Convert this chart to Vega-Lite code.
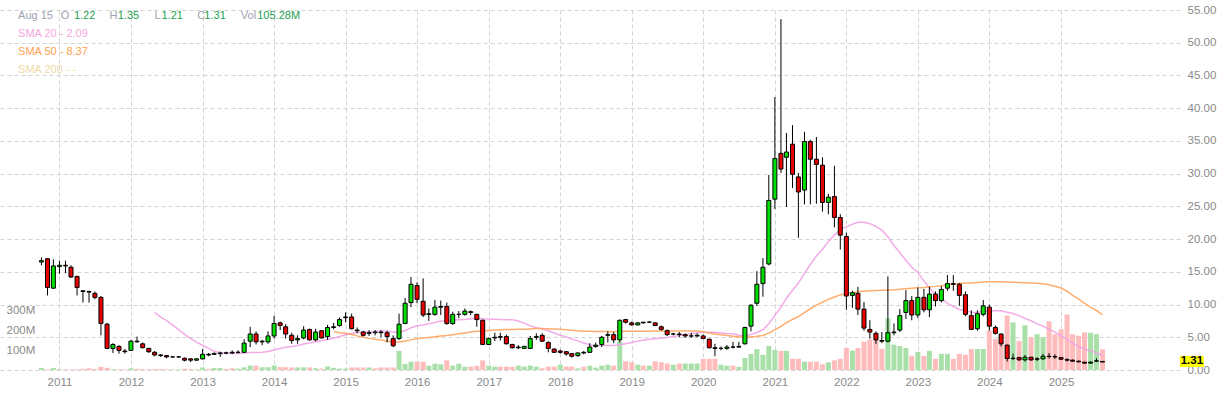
{
"$schema": "https://vega.github.io/schema/vega-lite/v6.json",
"width": 1180, "height": 360,
"autosize": {"type": "none"},
"padding": {"left": 0, "top": 10, "right": 50, "bottom": 27},
"background": "white",
"config": {"view": {"stroke": null}, "font": "Liberation Sans"},
"data": {"format": {"parse": {"d": "date:'%Y-%m'"}}, "values": [
{"d":"2010-10","o":16.5,"h":17.2,"l":16.0,"c":16.7,"v":10,"vu":1},
{"d":"2010-11","o":17.0,"h":17.1,"l":11.4,"c":12.6,"v":3,"vu":0},
{"d":"2010-12","o":12.5,"h":16.9,"l":12.4,"c":15.9,"v":10,"vu":1},
{"d":"2011-01","o":15.8,"h":16.7,"l":14.7,"c":16.0,"v":3,"vu":1},
{"d":"2011-02","o":16.0,"h":16.7,"l":14.8,"c":15.9,"v":3,"vu":0},
{"d":"2011-03","o":15.7,"h":16.0,"l":14.1,"c":14.2,"v":3,"vu":0},
{"d":"2011-04","o":14.3,"h":14.4,"l":11.4,"c":12.6,"v":4,"vu":0},
{"d":"2011-05","o":12.1,"h":12.2,"l":10.3,"c":12.0,"v":6,"vu":0},
{"d":"2011-06","o":12.0,"h":12.1,"l":10.3,"c":11.9,"v":9,"vu":0},
{"d":"2011-07","o":11.7,"h":12.0,"l":10.8,"c":11.1,"v":5,"vu":0},
{"d":"2011-08","o":11.1,"h":11.3,"l":5.3,"c":7.1,"v":16,"vu":0},
{"d":"2011-09","o":7.0,"h":7.2,"l":3.2,"c":3.3,"v":11,"vu":0},
{"d":"2011-10","o":3.3,"h":4.1,"l":2.6,"c":3.9,"v":4,"vu":1},
{"d":"2011-11","o":3.6,"h":3.8,"l":2.5,"c":3.0,"v":4,"vu":0},
{"d":"2011-12","o":2.9,"h":3.2,"l":2.5,"c":2.8,"v":3,"vu":0},
{"d":"2012-01","o":3.0,"h":4.6,"l":2.9,"c":4.4,"v":9,"vu":1},
{"d":"2012-02","o":4.4,"h":5.1,"l":4.2,"c":4.3,"v":6,"vu":0},
{"d":"2012-03","o":4.0,"h":4.2,"l":3.3,"c":3.4,"v":4,"vu":0},
{"d":"2012-04","o":3.3,"h":3.4,"l":2.6,"c":2.8,"v":4,"vu":0},
{"d":"2012-05","o":2.7,"h":2.9,"l":2.1,"c":2.3,"v":5,"vu":0},
{"d":"2012-06","o":2.3,"h":2.4,"l":2.0,"c":2.2,"v":5,"vu":0},
{"d":"2012-07","o":2.2,"h":2.3,"l":1.8,"c":2.0,"v":3,"vu":0},
{"d":"2012-08","o":2.0,"h":2.1,"l":1.9,"c":2.0,"v":3,"vu":1},
{"d":"2012-09","o":2.0,"h":2.1,"l":1.9,"c":2.0,"v":3,"vu":1},
{"d":"2012-10","o":1.8,"h":1.9,"l":1.3,"c":1.5,"v":6,"vu":0},
{"d":"2012-11","o":1.7,"h":1.8,"l":1.2,"c":1.5,"v":4,"vu":0},
{"d":"2012-12","o":1.5,"h":1.8,"l":1.4,"c":1.7,"v":3,"vu":1},
{"d":"2013-01","o":1.7,"h":3.2,"l":1.6,"c":2.4,"v":13,"vu":1},
{"d":"2013-02","o":2.3,"h":2.6,"l":2.1,"c":2.4,"v":6,"vu":0},
{"d":"2013-03","o":2.4,"h":2.7,"l":2.3,"c":2.5,"v":10,"vu":1},
{"d":"2013-04","o":2.5,"h":2.8,"l":2.0,"c":2.6,"v":10,"vu":1},
{"d":"2013-05","o":2.6,"h":2.8,"l":2.4,"c":2.6,"v":5,"vu":0},
{"d":"2013-06","o":2.6,"h":3.0,"l":2.4,"c":2.7,"v":9,"vu":0},
{"d":"2013-07","o":2.7,"h":3.0,"l":2.5,"c":2.7,"v":7,"vu":1},
{"d":"2013-08","o":2.7,"h":4.7,"l":2.6,"c":4.1,"v":13,"vu":1},
{"d":"2013-09","o":4.4,"h":6.6,"l":3.5,"c":5.5,"v":23,"vu":1},
{"d":"2013-10","o":5.5,"h":5.9,"l":3.9,"c":4.3,"v":23,"vu":0},
{"d":"2013-11","o":4.3,"h":4.6,"l":3.8,"c":4.4,"v":14,"vu":1},
{"d":"2013-12","o":4.3,"h":5.9,"l":4.0,"c":5.2,"v":14,"vu":1},
{"d":"2014-01","o":5.2,"h":8.3,"l":4.8,"c":7.1,"v":23,"vu":1},
{"d":"2014-02","o":7.2,"h":7.4,"l":6.1,"c":6.8,"v":15,"vu":0},
{"d":"2014-03","o":6.6,"h":7.0,"l":4.8,"c":5.5,"v":14,"vu":0},
{"d":"2014-04","o":5.3,"h":5.7,"l":4.0,"c":4.5,"v":13,"vu":0},
{"d":"2014-05","o":4.6,"h":5.3,"l":4.0,"c":4.8,"v":13,"vu":1},
{"d":"2014-06","o":4.9,"h":6.7,"l":4.7,"c":6.1,"v":14,"vu":1},
{"d":"2014-07","o":6.2,"h":6.3,"l":4.5,"c":4.6,"v":13,"vu":0},
{"d":"2014-08","o":4.6,"h":6.3,"l":4.4,"c":5.8,"v":9,"vu":1},
{"d":"2014-09","o":6.0,"h":6.1,"l":4.8,"c":4.9,"v":7,"vu":0},
{"d":"2014-10","o":5.1,"h":6.9,"l":4.6,"c":6.5,"v":18,"vu":1},
{"d":"2014-11","o":6.5,"h":7.2,"l":6.2,"c":6.6,"v":11,"vu":1},
{"d":"2014-12","o":6.8,"h":8.0,"l":6.6,"c":7.7,"v":7,"vu":1},
{"d":"2015-01","o":8.0,"h":8.8,"l":7.3,"c":8.1,"v":7,"vu":1},
{"d":"2015-02","o":8.1,"h":8.6,"l":6.2,"c":6.3,"v":13,"vu":0},
{"d":"2015-03","o":6.1,"h":6.5,"l":5.6,"c":6.0,"v":13,"vu":0},
{"d":"2015-04","o":5.8,"h":6.0,"l":5.1,"c":5.3,"v":13,"vu":0},
{"d":"2015-05","o":5.6,"h":6.1,"l":5.2,"c":5.7,"v":13,"vu":1},
{"d":"2015-06","o":5.7,"h":6.1,"l":5.3,"c":5.8,"v":9,"vu":0},
{"d":"2015-07","o":5.8,"h":6.1,"l":5.0,"c":5.7,"v":13,"vu":0},
{"d":"2015-08","o":5.7,"h":6.0,"l":4.2,"c":5.1,"v":13,"vu":0},
{"d":"2015-09","o":4.8,"h":5.3,"l":3.5,"c":3.7,"v":13,"vu":0},
{"d":"2015-10","o":4.8,"h":8.6,"l":4.6,"c":7.0,"v":97,"vu":1},
{"d":"2015-11","o":7.1,"h":11.0,"l":7.0,"c":10.2,"v":31,"vu":1},
{"d":"2015-12","o":10.3,"h":14.2,"l":9.6,"c":13.1,"v":42,"vu":1},
{"d":"2016-01","o":12.9,"h":13.4,"l":10.2,"c":10.8,"v":42,"vu":0},
{"d":"2016-02","o":10.5,"h":14.0,"l":8.1,"c":8.4,"v":42,"vu":0},
{"d":"2016-03","o":8.5,"h":9.4,"l":7.5,"c":8.6,"v":22,"vu":1},
{"d":"2016-04","o":8.5,"h":10.7,"l":8.3,"c":9.6,"v":32,"vu":1},
{"d":"2016-05","o":9.6,"h":10.6,"l":8.4,"c":9.7,"v":29,"vu":1},
{"d":"2016-06","o":9.7,"h":10.3,"l":6.9,"c":7.1,"v":49,"vu":0},
{"d":"2016-07","o":7.1,"h":8.9,"l":6.9,"c":8.5,"v":22,"vu":1},
{"d":"2016-08","o":8.5,"h":9.0,"l":7.9,"c":8.5,"v":32,"vu":1},
{"d":"2016-09","o":8.5,"h":9.4,"l":8.3,"c":9.0,"v":17,"vu":1},
{"d":"2016-10","o":8.9,"h":9.1,"l":8.4,"c":8.8,"v":17,"vu":0},
{"d":"2016-11","o":8.5,"h":8.6,"l":6.6,"c":7.7,"v":22,"vu":0},
{"d":"2016-12","o":7.6,"h":7.7,"l":3.8,"c":3.9,"v":49,"vu":0},
{"d":"2017-01","o":3.9,"h":5.0,"l":3.8,"c":4.8,"v":22,"vu":1},
{"d":"2017-02","o":4.9,"h":5.7,"l":4.4,"c":5.0,"v":17,"vu":1},
{"d":"2017-03","o":5.0,"h":5.7,"l":4.5,"c":5.1,"v":17,"vu":0},
{"d":"2017-04","o":5.1,"h":5.4,"l":3.9,"c":4.0,"v":17,"vu":0},
{"d":"2017-05","o":3.9,"h":4.0,"l":3.3,"c":3.4,"v":17,"vu":0},
{"d":"2017-06","o":3.4,"h":3.8,"l":3.2,"c":3.5,"v":22,"vu":1},
{"d":"2017-07","o":3.3,"h":3.7,"l":3.2,"c":3.6,"v":17,"vu":1},
{"d":"2017-08","o":3.3,"h":5.2,"l":3.2,"c":4.8,"v":22,"vu":1},
{"d":"2017-09","o":5.0,"h":5.6,"l":4.6,"c":5.1,"v":17,"vu":1},
{"d":"2017-10","o":5.3,"h":5.6,"l":4.3,"c":4.4,"v":9,"vu":0},
{"d":"2017-11","o":4.2,"h":4.4,"l":2.7,"c":3.3,"v":17,"vu":0},
{"d":"2017-12","o":3.2,"h":3.3,"l":2.6,"c":2.7,"v":17,"vu":0},
{"d":"2018-01","o":2.9,"h":3.1,"l":2.5,"c":2.7,"v":27,"vu":1},
{"d":"2018-02","o":2.8,"h":2.9,"l":2.2,"c":2.45,"v":17,"vu":0},
{"d":"2018-03","o":2.5,"h":2.6,"l":1.9,"c":2.1,"v":17,"vu":0},
{"d":"2018-04","o":2.2,"h":2.7,"l":2.0,"c":2.6,"v":8,"vu":1},
{"d":"2018-05","o":2.6,"h":2.9,"l":2.4,"c":2.7,"v":17,"vu":0},
{"d":"2018-06","o":2.7,"h":4.1,"l":2.6,"c":3.5,"v":22,"vu":1},
{"d":"2018-07","o":3.6,"h":4.2,"l":3.4,"c":3.8,"v":12,"vu":1},
{"d":"2018-08","o":3.9,"h":5.2,"l":3.5,"c":5.0,"v":22,"vu":1},
{"d":"2018-09","o":5.3,"h":5.9,"l":4.2,"c":5.4,"v":27,"vu":1},
{"d":"2018-10","o":5.4,"h":5.8,"l":4.1,"c":4.6,"v":22,"vu":0},
{"d":"2018-11","o":4.6,"h":7.7,"l":4.2,"c":7.6,"v":145,"vu":1},
{"d":"2018-12","o":7.7,"h":7.8,"l":7.1,"c":7.3,"v":44,"vu":0},
{"d":"2019-01","o":7.2,"h":7.4,"l":6.8,"c":6.9,"v":39,"vu":0},
{"d":"2019-02","o":6.9,"h":7.3,"l":6.8,"c":7.2,"v":27,"vu":1},
{"d":"2019-03","o":7.2,"h":7.35,"l":7.1,"c":7.3,"v":22,"vu":0},
{"d":"2019-04","o":7.3,"h":7.5,"l":7.2,"c":7.3,"v":22,"vu":1},
{"d":"2019-05","o":7.2,"h":7.3,"l":6.7,"c":6.8,"v":44,"vu":0},
{"d":"2019-06","o":6.6,"h":6.8,"l":6.0,"c":6.2,"v":39,"vu":0},
{"d":"2019-07","o":6.0,"h":6.2,"l":5.2,"c":5.4,"v":33,"vu":0},
{"d":"2019-08","o":5.5,"h":5.7,"l":5.3,"c":5.5,"v":27,"vu":1},
{"d":"2019-09","o":5.5,"h":5.8,"l":5.0,"c":5.4,"v":33,"vu":0},
{"d":"2019-10","o":5.4,"h":5.6,"l":4.9,"c":5.2,"v":33,"vu":1},
{"d":"2019-11","o":5.2,"h":5.7,"l":4.9,"c":5.2,"v":33,"vu":1},
{"d":"2019-12","o":5.2,"h":5.6,"l":5.0,"c":5.3,"v":33,"vu":1},
{"d":"2020-01","o":5.2,"h":5.4,"l":4.7,"c":4.8,"v":57,"vu":0},
{"d":"2020-02","o":4.7,"h":4.8,"l":3.3,"c":3.4,"v":57,"vu":0},
{"d":"2020-03","o":3.4,"h":4.0,"l":2.1,"c":3.3,"v":57,"vu":0},
{"d":"2020-04","o":3.3,"h":3.6,"l":3.0,"c":3.3,"v":27,"vu":1},
{"d":"2020-05","o":3.3,"h":3.8,"l":3.1,"c":3.5,"v":22,"vu":1},
{"d":"2020-06","o":3.5,"h":4.3,"l":3.3,"c":3.5,"v":22,"vu":0},
{"d":"2020-07","o":3.5,"h":4.3,"l":3.4,"c":3.6,"v":16,"vu":1},
{"d":"2020-08","o":4.0,"h":6.6,"l":3.9,"c":6.5,"v":61,"vu":1},
{"d":"2020-09","o":6.7,"h":10.0,"l":5.9,"c":9.9,"v":82,"vu":1},
{"d":"2020-10","o":10.2,"h":15.1,"l":9.8,"c":13.1,"v":106,"vu":1},
{"d":"2020-11","o":13.2,"h":17.1,"l":11.2,"c":15.7,"v":77,"vu":1},
{"d":"2020-12","o":16.2,"h":29.8,"l":16.0,"c":25.9,"v":122,"vu":1},
{"d":"2021-01","o":26.1,"h":41.7,"l":24.6,"c":32.3,"v":102,"vu":1},
{"d":"2021-02","o":33.1,"h":53.6,"l":30.1,"c":30.7,"v":97,"vu":0},
{"d":"2021-03","o":32.5,"h":36.2,"l":24.9,"c":33.3,"v":97,"vu":1},
{"d":"2021-04","o":34.5,"h":37.4,"l":27.8,"c":29.9,"v":57,"vu":0},
{"d":"2021-05","o":29.5,"h":30.1,"l":20.2,"c":27.2,"v":57,"vu":0},
{"d":"2021-06","o":27.5,"h":36.4,"l":25.3,"c":34.9,"v":42,"vu":1},
{"d":"2021-07","o":34.9,"h":35.2,"l":25.3,"c":32.2,"v":42,"vu":0},
{"d":"2021-08","o":32.2,"h":35.6,"l":25.4,"c":31.4,"v":42,"vu":0},
{"d":"2021-09","o":31.3,"h":32.5,"l":24.2,"c":25.6,"v":29,"vu":0},
{"d":"2021-10","o":25.6,"h":26.9,"l":23.8,"c":26.4,"v":39,"vu":1},
{"d":"2021-11","o":26.5,"h":31.2,"l":21.8,"c":23.3,"v":49,"vu":0},
{"d":"2021-12","o":23.3,"h":23.8,"l":18.4,"c":20.6,"v":57,"vu":0},
{"d":"2022-01","o":20.4,"h":21.0,"l":9.2,"c":11.3,"v":112,"vu":0},
{"d":"2022-02","o":11.4,"h":12.1,"l":9.5,"c":11.8,"v":99,"vu":1},
{"d":"2022-03","o":11.7,"h":12.7,"l":8.4,"c":9.3,"v":112,"vu":0},
{"d":"2022-04","o":9.3,"h":10.4,"l":6.0,"c":6.4,"v":144,"vu":0},
{"d":"2022-05","o":6.2,"h":7.6,"l":4.8,"c":5.8,"v":156,"vu":0},
{"d":"2022-06","o":5.6,"h":5.9,"l":4.0,"c":4.6,"v":152,"vu":0},
{"d":"2022-07","o":4.5,"h":5.8,"l":4.1,"c":4.4,"v":107,"vu":0},
{"d":"2022-08","o":4.4,"h":14.3,"l":4.2,"c":5.7,"v":262,"vu":1},
{"d":"2022-09","o":5.7,"h":7.1,"l":5.3,"c":5.8,"v":129,"vu":1},
{"d":"2022-10","o":6.1,"h":9.3,"l":5.8,"c":8.3,"v":122,"vu":1},
{"d":"2022-11","o":8.8,"h":12.2,"l":7.8,"c":10.6,"v":112,"vu":1},
{"d":"2022-12","o":10.6,"h":11.3,"l":7.6,"c":8.4,"v":72,"vu":0},
{"d":"2023-01","o":8.4,"h":12.6,"l":7.9,"c":11.1,"v":92,"vu":1},
{"d":"2023-02","o":11.1,"h":12.4,"l":8.8,"c":9.2,"v":72,"vu":0},
{"d":"2023-03","o":9.2,"h":12.7,"l":8.1,"c":11.6,"v":97,"vu":1},
{"d":"2023-04","o":11.6,"h":12.0,"l":9.7,"c":10.6,"v":57,"vu":0},
{"d":"2023-05","o":10.6,"h":12.8,"l":10.3,"c":12.3,"v":82,"vu":1},
{"d":"2023-06","o":12.5,"h":14.5,"l":12.1,"c":13.2,"v":82,"vu":1},
{"d":"2023-07","o":13.2,"h":14.5,"l":12.1,"c":13.1,"v":57,"vu":0},
{"d":"2023-08","o":13.1,"h":13.3,"l":9.8,"c":11.4,"v":82,"vu":0},
{"d":"2023-09","o":11.5,"h":12.0,"l":8.2,"c":8.5,"v":77,"vu":0},
{"d":"2023-10","o":8.3,"h":9.1,"l":6.1,"c":6.2,"v":107,"vu":0},
{"d":"2023-11","o":6.3,"h":9.1,"l":6.0,"c":8.6,"v":107,"vu":1},
{"d":"2023-12","o":8.5,"h":10.7,"l":8.2,"c":9.8,"v":107,"vu":1},
{"d":"2024-01","o":9.6,"h":10.0,"l":6.0,"c":6.7,"v":201,"vu":0},
{"d":"2024-02","o":6.5,"h":6.8,"l":5.4,"c":5.6,"v":158,"vu":0},
{"d":"2024-03","o":5.5,"h":5.6,"l":3.6,"c":4.0,"v":145,"vu":0},
{"d":"2024-04","o":3.8,"h":3.9,"l":1.3,"c":1.75,"v":277,"vu":0},
{"d":"2024-05","o":1.75,"h":2.5,"l":1.5,"c":1.8,"v":242,"vu":1},
{"d":"2024-06","o":1.9,"h":2.0,"l":1.4,"c":1.55,"v":147,"vu":0},
{"d":"2024-07","o":1.55,"h":2.3,"l":1.3,"c":1.95,"v":227,"vu":1},
{"d":"2024-08","o":1.95,"h":2.0,"l":1.4,"c":1.55,"v":167,"vu":0},
{"d":"2024-09","o":1.7,"h":1.95,"l":1.35,"c":1.65,"v":182,"vu":1},
{"d":"2024-10","o":1.7,"h":2.45,"l":1.6,"c":2.1,"v":167,"vu":1},
{"d":"2024-11","o":2.1,"h":2.6,"l":1.75,"c":2.05,"v":247,"vu":0},
{"d":"2024-12","o":2.05,"h":2.4,"l":1.7,"c":2.0,"v":182,"vu":0},
{"d":"2025-01","o":1.9,"h":2.0,"l":1.55,"c":1.65,"v":207,"vu":0},
{"d":"2025-02","o":1.6,"h":1.8,"l":1.3,"c":1.5,"v":282,"vu":0},
{"d":"2025-03","o":1.5,"h":1.6,"l":1.25,"c":1.35,"v":182,"vu":0},
{"d":"2025-04","o":1.35,"h":1.45,"l":1.15,"c":1.25,"v":174,"vu":0},
{"d":"2025-05","o":1.2,"h":1.25,"l":0.95,"c":1.05,"v":191,"vu":0},
{"d":"2025-06","o":1.05,"h":1.3,"l":1.0,"c":1.2,"v":189,"vu":1},
{"d":"2025-07","o":1.35,"h":1.8,"l":1.2,"c":1.4,"v":182,"vu":1},
{"d":"2025-08","o":1.22,"h":1.35,"l":1.21,"c":1.31,"v":105.28,"vu":0}
]},
"transform": [
  {"window": [{"op": "mean", "field": "c", "as": "s20"}, {"op": "count", "as": "n20"}], "frame": [-19, 0], "sort": [{"field": "d"}]},
  {"window": [{"op": "mean", "field": "c", "as": "s50"}, {"op": "count", "as": "n50"}], "frame": [-49, 0], "sort": [{"field": "d"}]}
],
"resolve": {"scale": {"y": "independent"}, "axis": {"y": "independent"}},
"encoding": {
  "x": {"field": "d", "type": "temporal",
    "scale": {"domain": [{"year": 2010, "month": 3, "date": 29}, {"year": 2026, "month": 8, "date": 6}], "nice": false},
    "axis": {"title": null, "format": "%Y",
      "values": [{"year":2011,"month":1,"date":1},{"year":2012,"month":1,"date":1},{"year":2013,"month":1,"date":1},{"year":2014,"month":1,"date":1},{"year":2015,"month":1,"date":1},{"year":2016,"month":1,"date":1},{"year":2017,"month":1,"date":1},{"year":2018,"month":1,"date":1},{"year":2019,"month":1,"date":1},{"year":2020,"month":1,"date":1},{"year":2021,"month":1,"date":1},{"year":2022,"month":1,"date":1},{"year":2023,"month":1,"date":1},{"year":2024,"month":1,"date":1},{"year":2025,"month":1,"date":1}],
      "grid": true, "gridColor": "#d3d3d3", "gridDash": [4, 3], "gridWidth": 1,
      "ticks": false, "domain": false, "labelColor": "#8a8a8a", "labelFontSize": 11.5,
      "labelPadding": 6, "labelFont": "Liberation Sans"}}
},
"layer": [
  {
    "mark": {"type": "bar", "width": 5},
    "encoding": {
      "y": {"field": "v", "type": "quantitative",
        "scale": {"domain": [0, 1830], "nice": false, "zero": false},
        "axis": {"orient": "left", "title": null, "values": [100, 200, 300], "labelExpr": "datum.value + 'M'",
          "grid": false, "ticks": false, "tickSize": 0, "domain": false, "offset": -6, "labelPadding": 0,
          "labelAlign": "left", "labelColor": "#8a8a8a", "labelFontSize": 11.5, "labelFont": "Liberation Sans"}},
      "fill": {"condition": {"test": "datum.vu == 1", "value": "#a9e0a9"}, "value": "#ffbcbc"}
    }
  },
  {
    "mark": {"type": "rule", "color": "#000000", "strokeWidth": 0, "opacity": 0},
    "encoding": {"y": {"field": "c", "type": "quantitative",
      "scale": {"domain": [0, 55], "nice": false, "zero": false},
      "axis": {"orient": "right", "title": null, "values": [0,5,10,15,20,25,30,35,40,45,50,55], "format": ".2f",
        "grid": true, "gridColor": "#d3d3d3", "gridDash": [4, 3], "gridWidth": 1, "labelOverlap": false,
        "ticks": false, "tickSize": 0, "domain": false, "labelPadding": 7, "labelAlign": "left",
        "labelColor": "#8a8a8a", "labelFontSize": 11.5, "labelFont": "Liberation Sans"}}}
  },
  {
    "transform": [{"filter": "datum.n20 >= 20"}],
    "mark": {"type": "line", "color": "#f2a2e4", "strokeWidth": 1.5, "opacity": 0.9},
    "encoding": {"y": {"field": "s20", "type": "quantitative", "scale": {"domain": [0, 55], "nice": false, "zero": false}, "axis": null}}
  },
  {
    "transform": [{"filter": "datum.n50 >= 50"}],
    "mark": {"type": "line", "color": "#ffa45e", "strokeWidth": 1.5, "opacity": 0.9},
    "encoding": {"y": {"field": "s50", "type": "quantitative", "scale": {"domain": [0, 55], "nice": false, "zero": false}, "axis": null}}
  },
  {
    "mark": {"type": "rule", "color": "#000000", "strokeWidth": 1},
    "encoding": {"y": {"field": "l", "type": "quantitative", "scale": {"domain": [0, 55], "nice": false, "zero": false}, "axis": null}, "y2": {"field": "h"}}
  },
  {
    "mark": {"type": "bar", "width": 4, "stroke": "#000000", "strokeWidth": 1},
    "encoding": {
      "y": {"field": "o", "type": "quantitative", "scale": {"domain": [0, 55], "nice": false, "zero": false}, "axis": null}, "y2": {"field": "c"},
      "fill": {"condition": {"test": "datum.c > datum.o", "value": "#00e000"}, "value": "#e60000"}
    }
  },
  {
    "transform": [{"filter": "year(datum.d) == 2025 && month(datum.d) == 7"}],
    "mark": {"type": "point", "shape": "M-1,-0.46H1V0.46H-1Z", "size": 576, "filled": true, "color": "#ffff00", "opacity": 1},
    "encoding": {"x": {"datum": {"year": 2026, "month": 10, "date": 31}, "type": "temporal"},
      "y": {"field": "c", "type": "quantitative", "scale": {"domain": [0, 55], "nice": false, "zero": false}, "axis": null}}
  },
  {
    "transform": [{"filter": "year(datum.d) == 2025 && month(datum.d) == 7"}],
    "mark": {"type": "text", "fontSize": 11.5, "fontWeight": "bold", "color": "#000000", "align": "center", "baseline": "middle", "font": "Liberation Sans"},
    "encoding": {"x": {"datum": {"year": 2026, "month": 10, "date": 31}, "type": "temporal"},
      "y": {"field": "c", "type": "quantitative", "scale": {"domain": [0, 55], "nice": false, "zero": false}, "axis": null},
      "text": {"field": "c", "format": ".2f"}}
  },
  {"transform": [{"filter": "year(datum.d) == 2025 && month(datum.d) == 7"}],
   "mark": {"type": "text", "text": "Aug 15", "align": "left", "baseline": "middle", "fontSize": 11, "color": "#9ea2b4"},
   "encoding": {"x": {"datum": {"year": 2010, "month": 6, "date": 4}, "type": "temporal"}, "y": {"datum": 54.1, "type": "quantitative", "scale": {"domain": [0, 55], "nice": false, "zero": false}, "axis": null}}},
  {"transform": [{"filter": "year(datum.d) == 2025 && month(datum.d) == 7"}],
   "mark": {"type": "text", "text": "O", "align": "left", "baseline": "middle", "fontSize": 11, "color": "#9ea2b4"},
   "encoding": {"x": {"datum": {"year": 2011, "month": 1, "date": 8}, "type": "temporal"}, "y": {"datum": 54.1, "type": "quantitative", "scale": {"domain": [0, 55], "nice": false, "zero": false}, "axis": null}}},
  {"transform": [{"filter": "year(datum.d) == 2025 && month(datum.d) == 7"}],
   "mark": {"type": "text", "align": "left", "baseline": "middle", "fontSize": 11, "color": "#1d9e4f"},
   "encoding": {"x": {"datum": {"year": 2011, "month": 3, "date": 16}, "type": "temporal"}, "y": {"datum": 54.1, "type": "quantitative", "scale": {"domain": [0, 55], "nice": false, "zero": false}, "axis": null}, "text": {"field": "o", "format": ".2f"}}},
  {"transform": [{"filter": "year(datum.d) == 2025 && month(datum.d) == 7"}],
   "mark": {"type": "text", "text": "H", "align": "left", "baseline": "middle", "fontSize": 11, "color": "#9ea2b4"},
   "encoding": {"x": {"datum": {"year": 2011, "month": 9, "date": 14}, "type": "temporal"}, "y": {"datum": 54.1, "type": "quantitative", "scale": {"domain": [0, 55], "nice": false, "zero": false}, "axis": null}}},
  {"transform": [{"filter": "year(datum.d) == 2025 && month(datum.d) == 7"}],
   "mark": {"type": "text", "align": "left", "baseline": "middle", "fontSize": 11, "color": "#1d9e4f"},
   "encoding": {"x": {"datum": {"year": 2011, "month": 10, "date": 26}, "type": "temporal"}, "y": {"datum": 54.1, "type": "quantitative", "scale": {"domain": [0, 55], "nice": false, "zero": false}, "axis": null}, "text": {"field": "h", "format": ".2f"}}},
  {"transform": [{"filter": "year(datum.d) == 2025 && month(datum.d) == 7"}],
   "mark": {"type": "text", "text": "L", "align": "left", "baseline": "middle", "fontSize": 11, "color": "#9ea2b4"},
   "encoding": {"x": {"datum": {"year": 2012, "month": 4, "date": 30}, "type": "temporal"}, "y": {"datum": 54.1, "type": "quantitative", "scale": {"domain": [0, 55], "nice": false, "zero": false}, "axis": null}}},
  {"transform": [{"filter": "year(datum.d) == 2025 && month(datum.d) == 7"}],
   "mark": {"type": "text", "align": "left", "baseline": "middle", "fontSize": 11, "color": "#1d9e4f"},
   "encoding": {"x": {"datum": {"year": 2012, "month": 6, "date": 5}, "type": "temporal"}, "y": {"datum": 54.1, "type": "quantitative", "scale": {"domain": [0, 55], "nice": false, "zero": false}, "axis": null}, "text": {"field": "l", "format": ".2f"}}},
  {"transform": [{"filter": "year(datum.d) == 2025 && month(datum.d) == 7"}],
   "mark": {"type": "text", "text": "C", "align": "left", "baseline": "middle", "fontSize": 11, "color": "#9ea2b4"},
   "encoding": {"x": {"datum": {"year": 2012, "month": 12, "date": 4}, "type": "temporal"}, "y": {"datum": 54.1, "type": "quantitative", "scale": {"domain": [0, 55], "nice": false, "zero": false}, "axis": null}}},
  {"transform": [{"filter": "year(datum.d) == 2025 && month(datum.d) == 7"}],
   "mark": {"type": "text", "align": "left", "baseline": "middle", "fontSize": 11, "color": "#1d9e4f"},
   "encoding": {"x": {"datum": {"year": 2013, "month": 1, "date": 10}, "type": "temporal"}, "y": {"datum": 54.1, "type": "quantitative", "scale": {"domain": [0, 55], "nice": false, "zero": false}, "axis": null}, "text": {"field": "c", "format": ".2f"}}},
  {"transform": [{"filter": "year(datum.d) == 2025 && month(datum.d) == 7"}],
   "mark": {"type": "text", "text": "Vol", "align": "left", "baseline": "middle", "fontSize": 11, "color": "#9ea2b4"},
   "encoding": {"x": {"datum": {"year": 2013, "month": 7, "date": 15}, "type": "temporal"}, "y": {"datum": 54.1, "type": "quantitative", "scale": {"domain": [0, 55], "nice": false, "zero": false}, "axis": null}}},
  {"transform": [{"filter": "year(datum.d) == 2025 && month(datum.d) == 7"}],
   "mark": {"type": "text", "text": "105.28M", "align": "left", "baseline": "middle", "fontSize": 11, "color": "#1d9e4f"},
   "encoding": {"x": {"datum": {"year": 2013, "month": 10, "date": 7}, "type": "temporal"}, "y": {"datum": 54.1, "type": "quantitative", "scale": {"domain": [0, 55], "nice": false, "zero": false}, "axis": null}}},
  {"transform": [{"filter": "year(datum.d) == 2025 && month(datum.d) == 7"}],
   "mark": {"type": "text", "text": "SMA 20 - 2.09", "align": "left", "baseline": "middle", "fontSize": 11, "color": "#f4a6dc"},
   "encoding": {"x": {"datum": {"year": 2010, "month": 6, "date": 4}, "type": "temporal"}, "y": {"datum": 51.4, "type": "quantitative", "scale": {"domain": [0, 55], "nice": false, "zero": false}, "axis": null}}},
  {"transform": [{"filter": "year(datum.d) == 2025 && month(datum.d) == 7"}],
   "mark": {"type": "text", "text": "SMA 50 - 8.37", "align": "left", "baseline": "middle", "fontSize": 11, "color": "#ffa152"},
   "encoding": {"x": {"datum": {"year": 2010, "month": 6, "date": 4}, "type": "temporal"}, "y": {"datum": 48.6, "type": "quantitative", "scale": {"domain": [0, 55], "nice": false, "zero": false}, "axis": null}}},
  {"transform": [{"filter": "year(datum.d) == 2025 && month(datum.d) == 7"}],
   "mark": {"type": "text", "text": "SMA 200 - -", "align": "left", "baseline": "middle", "fontSize": 11, "color": "#f0dba8"},
   "encoding": {"x": {"datum": {"year": 2010, "month": 6, "date": 4}, "type": "temporal"}, "y": {"datum": 45.85, "type": "quantitative", "scale": {"domain": [0, 55], "nice": false, "zero": false}, "axis": null}}}
]
}
